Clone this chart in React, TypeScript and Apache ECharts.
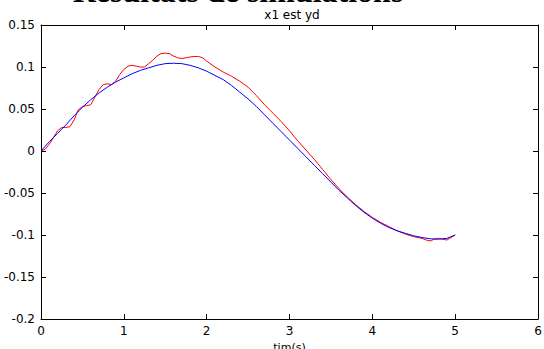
import React, { useEffect, useRef } from "react";
import * as echarts from "echarts";

const TITLE = "Résultats de simulations";
const SUBTITLE = "x1 est yd";
const X_NAME = "tim(s)";

const redT = [0.0,0.05,0.1,0.15,0.2,0.25,0.3,0.35,0.4,0.45,0.5,0.55,0.6,0.65,0.7,0.75,0.8,0.85,0.9,0.95,1.0,1.05,1.1,1.15,1.2,1.25,1.3,1.35,1.4,1.45,1.5,1.55,1.6,1.65,1.7,1.75,1.8,1.85,1.9,1.95,2.0,2.1,2.2,2.3,2.4,2.5,2.6,2.7,2.8,2.9,3.0,3.1,3.2,3.3,3.4,3.5,3.6,3.7,3.8,3.9,4.0,4.1,4.2,4.3,4.4,4.5,4.6,4.65,4.7,4.75,4.8,4.85,4.9,4.95,5.0];
const redV = [0.0,0.002,0.008,0.016,0.024,0.028,0.028,0.029,0.037,0.049,0.053,0.054,0.055,0.064,0.073,0.079,0.08,0.079,0.083,0.091,0.097,0.101,0.102,0.101,0.1,0.1,0.104,0.108,0.113,0.116,0.1165,0.116,0.113,0.111,0.11,0.111,0.112,0.1125,0.1125,0.111,0.107,0.1,0.094,0.089,0.083,0.076,0.066,0.055,0.045,0.035,0.024,0.012,0.001,-0.01,-0.022,-0.034,-0.045,-0.055,-0.064,-0.072,-0.079,-0.085,-0.09,-0.095,-0.099,-0.102,-0.104,-0.106,-0.107,-0.105,-0.104,-0.105,-0.106,-0.103,-0.1];

const blueT = [0.0,0.1,0.2,0.3,0.4,0.5,0.6,0.7,0.8,0.9,1.0,1.1,1.2,1.3,1.4,1.5,1.6,1.7,1.8,1.9,2.0,2.1,2.2,2.3,2.4,2.5,2.6,2.7,2.8,2.9,3.0,3.1,3.2,3.3,3.4,3.5,3.6,3.7,3.8,3.9,4.0,4.1,4.2,4.3,4.4,4.5,4.6,4.7,4.8,4.9,5.0];
const blueV = [0.0,0.011,0.021,0.031,0.042,0.052,0.061,0.069,0.076,0.082,0.087,0.092,0.096,0.099,0.102,0.104,0.1045,0.104,0.102,0.099,0.095,0.09,0.085,0.078,0.07,0.062,0.053,0.043,0.033,0.023,0.013,0.003,-0.007,-0.017,-0.027,-0.037,-0.047,-0.056,-0.065,-0.073,-0.08,-0.086,-0.091,-0.095,-0.098,-0.101,-0.103,-0.1045,-0.105,-0.104,-0.1];

const X_MIN = 0, X_MAX = 6, X_STEP = 1;
const Y_MIN = -0.2, Y_MAX = 0.15, Y_STEP = 0.05;

export default function App() {
  const ref = useRef<HTMLDivElement>(null);
  useEffect(() => {
    if (!ref.current) return;
    const chart = echarts.init(ref.current, undefined, { renderer: "svg" });
    const font = "'DejaVu Sans', 'Liberation Sans', Arial, sans-serif";
    const mkLine = () => ({ show: true, onZero: false, lineStyle: { color: "#000", width: 1 } });
    const mkTick = () => ({ show: true, inside: true, length: 5, lineStyle: { color: "#000", width: 1 } });
    const fmt = (v: number) => String(parseFloat(v.toFixed(2)));
    chart.setOption({
      animation: false,
      backgroundColor: "#fff",
      grid: {
        left: 41, right: 6, top: 25, bottom: 30,
        containLabel: false, outerBoundsMode: "none", show: false,
      },
      graphic: [
        { type: "text", x: 238, y: 7,
          style: { text: TITLE, font: "bold 32px 'Liberation Serif', 'Times New Roman', serif", fill: "#000", align: "center", verticalAlign: "bottom" } },
        { type: "text", x: 292, y: 15,
          style: { text: SUBTITLE, font: "12px " + font, fill: "#000", align: "center", verticalAlign: "middle" } },
      ],
      xAxis: [
        { type: "value", min: X_MIN, max: X_MAX, interval: X_STEP, position: "bottom",
          axisLine: mkLine(), axisTick: mkTick(), splitLine: { show: false },
          axisLabel: { color: "#000", fontSize: 12, fontFamily: font, margin: 6 },
          name: X_NAME, nameLocation: "middle", nameGap: 14,
          nameTextStyle: { color: "#000", fontSize: 11, fontFamily: font, verticalAlign: "top", lineHeight: 12 } },
        { type: "value", min: X_MIN, max: X_MAX, interval: X_STEP, position: "top",
          axisLine: mkLine(), axisTick: mkTick(), splitLine: { show: false }, axisLabel: { show: false } },
      ],
      yAxis: [
        { type: "value", min: Y_MIN, max: Y_MAX, interval: Y_STEP, position: "left",
          axisLine: mkLine(), axisTick: mkTick(), splitLine: { show: false },
          axisLabel: { color: "#000", fontSize: 12, fontFamily: font, margin: 6, formatter: fmt } },
        { type: "value", min: Y_MIN, max: Y_MAX, interval: Y_STEP, position: "right",
          axisLine: mkLine(), axisTick: mkTick(), splitLine: { show: false }, axisLabel: { show: false } },
      ],
      series: [
        { type: "line", name: "x1", data: redT.map((t, i) => [t, redV[i]]), showSymbol: false, symbol: "none",
          lineStyle: { color: "#ff0000", width: 1 }, itemStyle: { color: "#ff0000" } },
        { type: "line", name: "yd", data: blueT.map((t, i) => [t, blueV[i]]), showSymbol: false, symbol: "none",
          lineStyle: { color: "#0000ff", width: 1 }, itemStyle: { color: "#0000ff" } },
        { type: "line", name: "mirror", xAxisIndex: 1, yAxisIndex: 1, data: [], silent: true, showSymbol: false, lineStyle: { width: 0 } },
      ],
    });
    return () => chart.dispose();
  }, []);
  return <div ref={ref} style={{ position: "fixed", left: 0, top: 0, width: 544, height: 349, background: "#fff" }} />;
}
